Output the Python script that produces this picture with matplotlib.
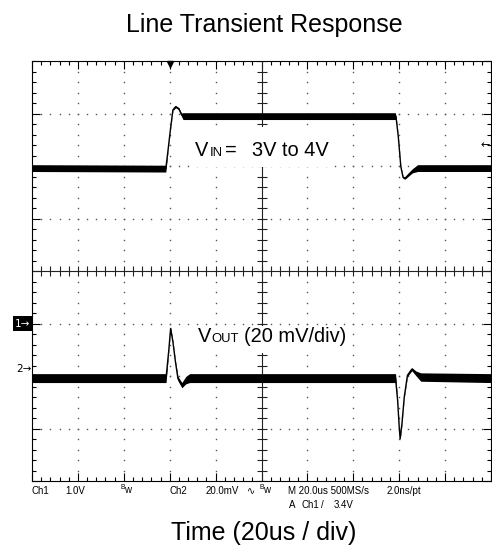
import matplotlib
matplotlib.use("Agg")
import matplotlib.pyplot as plt
import numpy as np
from matplotlib.patches import Rectangle
from matplotlib.transforms import blended_transform_factory

plt.rcParams['font.family'] = ['Liberation Sans', 'DejaVu Sans']
plt.rcParams['mathtext.fontset'] = 'custom'
plt.rcParams['mathtext.rm'] = 'Liberation Sans'

### scope settings
CH1_VDIV = 1.0       # V/div
CH2_MVDIV = 20.0     # mV/div
TIME_DIV = 20.0      # us/div
TRIG_LEVEL = 3.4     # V
TRIG_TIME = 60.0     # us
SAMPLE_RATE = "500MS/s"
RESOLUTION = "2.0ns/pt"
CH1_POS = -1.0       # div, ch1 ground marker
CH2_POS = -1.87      # div, ch2 marker

### VIN trace (V) and half width of the noise band
vin_t = [0, 58.3, 59.3, 60.3, 61.4, 62.6, 64.0, 65.1, 65.8, 158.3, 158.6,
         159.6, 160.7, 161.7, 162.6, 164.4, 165.8, 168.0, 200]
vin_v = [2.96, 2.95, 3.31, 3.69, 4.07, 4.13, 4.09, 3.98, 3.95, 3.95, 3.94,
         3.56, 2.99, 2.78, 2.77, 2.85, 2.91, 2.96, 2.96]
vin_noise = [0.065, 0.065, 0.015, 0.015, 0.015, 0.02, 0.02, 0.03, 0.065, 0.065, 0.02,
             0.015, 0.015, 0.02, 0.02, 0.03, 0.04, 0.065, 0.065]

### VOUT trace (mV, relative to ch2 marker) and noise band
vout_t = [0, 58.4, 59.6, 60.4, 61.4, 62.5, 63.6, 65.3, 67.0, 68.7,
          158.4, 159.3, 160.0, 160.4, 161.2, 162.2, 163.6, 165.5, 167.3, 169.4, 200]
vout_mv = [-3.4, -3.4, 7.2, 15.5, 10.4, 2.8, -3.6, -6.1, -4.2, -3.4,
           -3.4, -11.8, -22.0, -26.5, -20.7, -10.6, -2.3, 0.0, -1.6, -3.0, -3.4]
vout_noise = [1.7, 1.7, 0.4, 0.5, 0.4, 0.4, 0.8, 1.0, 1.4, 1.7,
              1.7, 0.4, 0.4, 0.6, 0.4, 0.4, 0.5, 0.6, 0.9, 1.6, 1.7]

W, H = 492, 549
fig = plt.figure(figsize=(W / 100, H / 100), dpi=100)
ax = fig.add_axes([32 / W, 68 / H, 459 / W, 420 / H])
ax.set_xlim(0, 10 * TIME_DIV)
ax.set_ylim(-4, 4)

# graticule: frame ticks
ax.set_xticks(np.arange(0, 10 * TIME_DIV + 1, TIME_DIV))
ax.set_xticks(np.arange(0, 10 * TIME_DIV + 1, TIME_DIV / 5), minor=True)
ax.set_yticks(np.arange(-4, 5, 1))
ax.set_yticks(np.arange(-4, 4.01, 0.2), minor=True)
ax.tick_params(which='both', direction='in', top=True, right=True,
               labelbottom=False, labelleft=False, width=0.8, color='black')
ax.tick_params(which='major', length=6)
ax.tick_params(which='minor', length=3)
for s in ax.spines.values():
    s.set_linewidth(0.8)

# dotted grid
xminor = np.arange(0, 10 * TIME_DIV + 0.1, TIME_DIV / 5)
yminor = np.arange(-4, 4.01, 0.2)
gx, gy = [], []
for k in range(1, 10):
    if k == 5:
        continue
    gx += [k * TIME_DIV] * len(yminor)
    gy += list(yminor)
for k in range(-3, 4):
    if k == 0:
        continue
    gx += list(xminor)
    gy += [k] * len(xminor)
ax.plot(gx, gy, ls='none', marker='s', ms=1.0, mew=0, color='#555555', zorder=1)

# center cross with ticks
ax.axhline(0, color='#222222', lw=0.8, zorder=2)
ax.axvline(5 * TIME_DIV, color='#222222', lw=0.8, zorder=2)
ax.plot(xminor, np.zeros_like(xminor), ls='none', marker='|', ms=6.5, mew=0.8,
        color='#222222', zorder=2)
ax.plot(np.full_like(yminor, 5 * TIME_DIV), yminor, ls='none', marker='_', ms=6.5,
        mew=0.8, color='#222222', zorder=2)

# label backgrounds
ax.add_patch(Rectangle((68.7, 1.98), 63.0, 0.77, fc='white', ec='none', zorder=3))
ax.add_patch(Rectangle((70.0, -1.565), 68.3, 0.515, fc='white', ec='none', zorder=3))

# traces
y1 = np.array(vin_v) / CH1_VDIV + CH1_POS
w1 = np.array(vin_noise) / CH1_VDIV
ax.fill_between(vin_t, y1 - w1, y1 + w1, color='black', lw=0, zorder=4)
ax.plot(vin_t, y1, color='black', lw=1.0, zorder=4)

y2 = np.array(vout_mv) / CH2_MVDIV + CH2_POS
w2 = np.array(vout_noise) / CH2_MVDIV
ax.fill_between(vout_t, y2 - w2, y2 + w2, color='black', lw=0, zorder=4)
ax.plot(vout_t, y2, color='black', lw=1.0, zorder=4)

# in-plot labels
ax.text(70.9, 2.195, 'V', fontsize=14.4, va='baseline', zorder=5)
ax.text(77.4, 2.195, 'IN', fontsize=9.4, va='baseline', zorder=5)
ax.text(83.9, 2.195, '=', fontsize=14.4, va='baseline', zorder=5)
ax.text(95.7, 2.195, '3V to 4V', fontsize=14.4, va='baseline', zorder=5)

ax.text(72.2, -1.35, 'V', fontsize=14.4, va='baseline', zorder=5)
ax.text(78.2, -1.35, 'OUT', fontsize=9.4, va='baseline', zorder=5)
ax.text(92.4, -1.35, '(20 mV/div)', fontsize=14.4, va='baseline', zorder=5)

# markers
tr = blended_transform_factory(ax.transAxes, ax.transData)
ax.text(-0.004, CH1_POS, '1\u2192', transform=tr, ha='right', va='center',
        color='white', fontsize=7.5, clip_on=False, family=['DejaVu Sans'],
        bbox=dict(boxstyle='square,pad=0.2', fc='black', ec='none'))
ax.text(0.0, CH2_POS, '2\u2192', transform=tr, ha='right', va='center',
        color='black', fontsize=7.5, clip_on=False, family=['DejaVu Sans'])
ax.text(0.998, TRIG_LEVEL / CH1_VDIV + CH1_POS, '\u2190', transform=tr, ha='right',
        va='center', fontsize=8, clip_on=False, family=['DejaVu Sans'])
ax.plot(TRIG_TIME, 3.95, marker='v', ms=5, color='black', clip_on=False, zorder=6)

# scope readout
small = dict(fontsize=7.0, va='baseline', family=['Liberation Sans', 'DejaVu Sans'])
r1 = 1 - 494.3 / H
r2 = 1 - 508.3 / H
fig.text(32 / W, r1, 'Ch1', **small)
fig.text(65 / W, r1, f'{CH1_VDIV:.1f}V', **small)
fig.text(120 / W, r1, r'$^{\mathrm{B}}$w', **small)
fig.text(169 / W, r1, 'Ch2', **small)
fig.text(206 / W, r1, f'{CH2_MVDIV:.1f}mV', **small)
fig.text(246.7 / W, r1, '\u223f', **small)
fig.text(259.3 / W, r1, r'$^{\mathrm{B}}$w', **small)
fig.text(288.3 / W, r1, f'M {TIME_DIV:.1f}us {SAMPLE_RATE}', **small)
fig.text(386.7 / W, r1, RESOLUTION, **small)
fig.text(289.3 / W, r2, 'A', **small)
fig.text(301.7 / W, r2, 'Ch1', **small)
fig.text(321 / W, r2, '/', **small)
fig.text(333.3 / W, r2, f'{TRIG_LEVEL:.1f}V', **small)

# title and axis caption
fig.text(0.538, 1 - 32.3 / H, 'Line Transient Response', fontsize=18,
         ha='center', va='baseline')
fig.text(0.5366, 1 - 540 / H, f'Time ({TIME_DIV:.0f}us / div)', fontsize=18,
         ha='center', va='baseline')

fig.savefig('out.png', dpi=100)
